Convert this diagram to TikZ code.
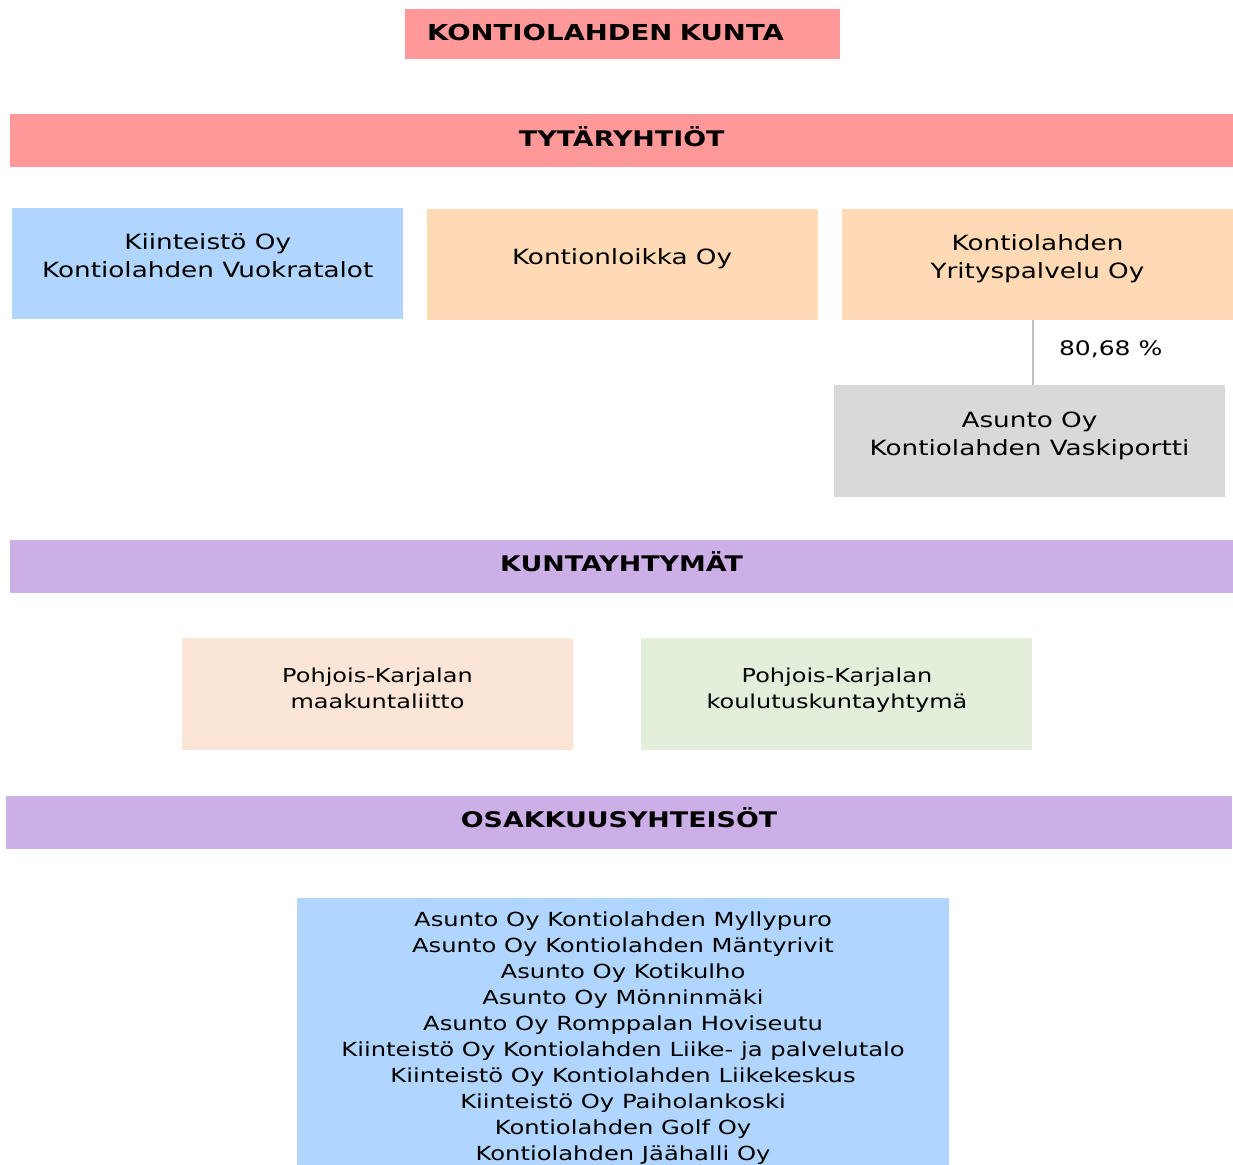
\documentclass[tikz,border=0pt]{standalone}
\usepackage{fontspec}
\setmainfont{DejaVu Sans}[FakeStretch=1.25]
\usepackage{tikz}
\usetikzlibrary{positioning}

\definecolor{kuntared}{HTML}{FF9999}
\definecolor{tytblue}{HTML}{B0D5FF}
\definecolor{tytpeach}{HTML}{FFDAB4}
\definecolor{tytgray}{HTML}{D9D9D9}
\definecolor{bandlilac}{HTML}{CDAFE8}
\definecolor{ykpeach}{HTML}{FBE5D6}
\definecolor{ykgreen}{HTML}{E2EFDA}
\definecolor{linkgray}{HTML}{BFBFBF}

\begin{document}
\begin{tikzpicture}[x=1pt, y=-1pt, node distance=24pt,
        band/.style={fill=bandlilac, minimum width=1223pt, minimum height=53pt, inner sep=0pt,
            text depth=9pt, font=\fontsize{21.5}{26}\selectfont\bfseries},
        orgbox/.style={minimum width=391pt, minimum height=111pt, inner sep=0pt, align=center,
            text depth=15pt, font=\fontsize{21}{28}\selectfont},
        smallbox/.style={minimum width=391pt, minimum height=112pt, inner sep=0pt, align=center,
            text depth=11pt, font=\fontsize{19.2}{26}\selectfont},
        link/.style={draw=linkgray, line width=1.4pt}]

        \useasboundingbox (0,0) rectangle (1233,1164);

        % Municipality on top
        \node[fill=kuntared, anchor=west, text width=391pt, align=left, inner xsep=22pt, inner ysep=0pt,
            minimum height=50pt, text depth=4pt, font=\fontsize{22}{26}\selectfont\bfseries] (kunta) at (405,34) {KONTIOLAHDEN KUNTA};

        % Subsidiaries
        \node[band, fill=kuntared, below=55pt of kunta, xshift=-1pt] (tytar) {TYTÄRYHTIÖT};
        \node[orgbox, fill=tytblue, anchor=north west] (vuokra) at ([shift={(2,40)}]tytar.south west) {Kiinteistö Oy\\Kontiolahden Vuokratalot};
        \node[orgbox, fill=tytpeach, right=23pt of vuokra, yshift=-1pt] (loikka) {Kontionloikka Oy};
        \node[orgbox, fill=tytpeach, right=24pt of loikka] (yritys) {Kontiolahden\\Yrityspalvelu Oy};
        \node[orgbox, fill=tytgray, below=65pt of yritys, xshift=-8pt, minimum height=112pt] (vaski) {Asunto Oy\\Kontiolahden Vaskiportti};

        \draw[link] ([xshift=-4.5pt]yritys.south) -- ([xshift=-4.5pt]yritys.south |- vaski.north)
            node[midway, right=22pt, yshift=3pt, font=\fontsize{20}{24}\selectfont] (osuus) {80,68 \%};

        % Joint municipal authorities
        \node[band] (kuntay) at (621.5,566.5) {KUNTAYHTYMÄT};
        \node[smallbox, fill=ykpeach] (maak) at (377.5,694) {Pohjois-Karjalan\\maakuntaliitto};
        \node[smallbox, fill=ykgreen, right=68pt of maak] (koulu) {Pohjois-Karjalan\\koulutuskuntayhtymä};

        % Associated companies
        \node[band, minimum width=1226pt] (osakk) at (619,822.5) {OSAKKUUSYHTEISÖT};
        \node[fill=tytblue, below=49pt of osakk, xshift=4pt, minimum width=652pt, inner xsep=0pt, inner ysep=13pt,
            align=center, font=\fontsize{19.4}{26}\selectfont] (osakkeet) {Asunto Oy Kontiolahden Myllypuro\\
            Asunto Oy Kontiolahden Mäntyrivit\\
            Asunto Oy Kotikulho\\
            Asunto Oy Mönninmäki\\
            Asunto Oy Romppalan Hoviseutu\\
            Kiinteistö Oy Kontiolahden Liike- ja palvelutalo\\
            Kiinteistö Oy Kontiolahden Liikekeskus\\
            Kiinteistö Oy Paiholankoski\\
            Kontiolahden Golf Oy\\
            Kontiolahden Jäähalli Oy};
    \end{tikzpicture}
\end{document}
